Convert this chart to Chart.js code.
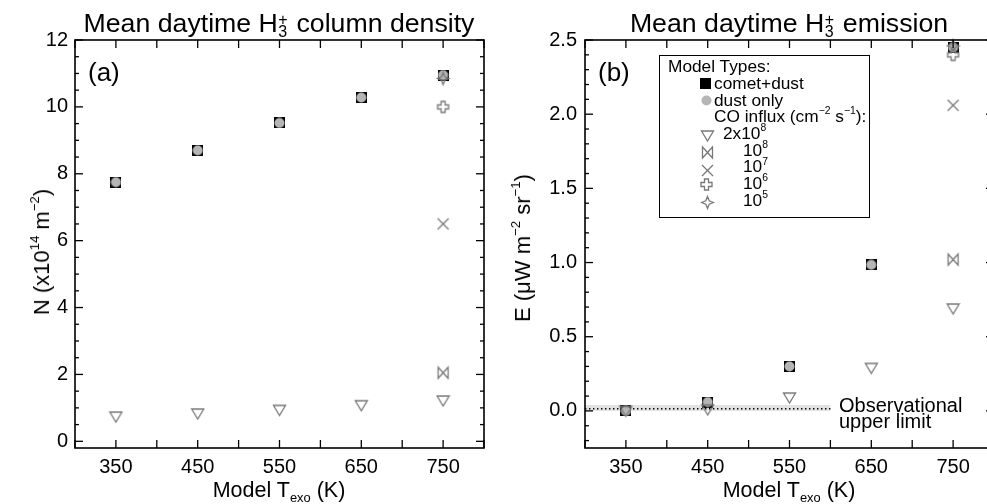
<!DOCTYPE html>
<html>
<head>
<meta charset="utf-8">
<script src="https://cdn.jsdelivr.net/npm/chart.js@4.4.1/dist/chart.umd.min.js"></script>
<style>
  html, body { margin:0; padding:0; background:#fff; }
  body { width:987px; height:504px; overflow:hidden; position:relative;
         font-family:"Liberation Sans", Arial, Helvetica, sans-serif; color:#000; }
  .cw { position:absolute; top:0; height:504px; }
  #cwA { left:0; width:493px; }
  #cwB { left:493px; width:520px; }
  .txt { position:absolute; white-space:nowrap; line-height:1; }
  .ctr { transform:translateX(-50%); }
  .title { font-size:26.7px; }
  .ss { position:relative; display:inline-block; width:0.42em; height:0; }
  .ss .p { position:absolute; left:0.03em; bottom:0.3em; font-size:0.6em; line-height:1; }
  .ss .b { position:absolute; left:0.03em; top:-0.51em; font-size:0.6em; line-height:1; }
  .sup { font-size:0.6em; position:relative; top:-0.75em; }
  .sub { font-size:0.6em; position:relative; top:0.42em; }
  .ytitle { transform:translate(-50%,-50%) rotate(-90deg); font-size:22px; }
  #legend { position:absolute; left:659px; top:55px; width:211px; height:163px;
            border:1.5px solid #000; box-sizing:border-box; background:#fff; }
  .lg { font-size:17.3px; }
  .lm { position:absolute; }
</style>
</head>
<body>
<div class="cw" id="cwA"><canvas id="chartA"></canvas></div>
<div class="cw" id="cwB"><canvas id="chartB"></canvas></div>

<div class="txt title ctr" style="left:279px;top:9.5px;">Mean daytime H<span class="ss"><span class="p">+</span><span class="b">3</span></span>&nbsp;column density</div>
<div class="txt title ctr" style="left:789px;top:9.5px;">Mean daytime H<span class="ss"><span class="p">+</span><span class="b">3</span></span>&nbsp;emission</div>

<div class="txt" style="left:88px;top:59px;font-size:26px;">(a)</div>
<div class="txt" style="left:598px;top:59px;font-size:26px;">(b)</div>

<div class="txt ctr" style="left:279px;top:480px;font-size:21.5px;">Model T<span class="sub">exo</span> (K)</div>
<div class="txt ctr" style="left:789px;top:480px;font-size:21.5px;">Model T<span class="sub">exo</span> (K)</div>

<div class="txt ytitle" style="left:42px;top:252px;">N (x10<span class="sup">14</span> m<span class="sup">&minus;2</span>)</div>
<div class="txt ytitle" style="left:523px;top:248px;">E (&mu;W m<span class="sup">&minus;2</span> sr<span class="sup">&minus;1</span>)</div>

<div class="txt" style="left:839px;top:395px;font-size:20px;">Observational</div>
<div class="txt" style="left:839px;top:411px;font-size:20px;">upper limit</div>

<div id="legend"></div>
<div id="legendItems"></div>

<script>
// ---------------- DATA ----------------
const temps = [350, 450, 550, 650, 750];
const coOnlyTemp = [750];
const xTickLabels = [350, 450, 550, 650, 750];
const nTickValues = [0, 2, 4, 6, 8, 10, 12];
const eTickValues = [0.0, 0.5, 1.0, 1.5, 2.0, 2.5];

// Panel (a): mean daytime H3+ column density, N (x10^14 m^-2)
const nCometDust = [7.75, 8.7, 9.52, 10.28, 10.95];
const nDustOnly  = [7.75, 8.7, 9.52, 10.28, 10.95];
const nCO2e8 = [0.74, 0.83, 0.94, 1.08, 1.22];
const nCO1e8 = [2.05];
const nCO1e7 = [6.5];
const nCO1e6 = [10.0];
const nCO1e5 = [10.85];

// Panel (b): mean daytime H3+ emission, E (uW m^-2 sr^-1)
const eCometDust = [0.0, 0.06, 0.30, 0.985, 2.45];
const eDustOnly  = [0.0, 0.06, 0.30, 0.985, 2.45];
const eCO2e8 = [0.0, 0.01, 0.09, 0.29, 0.69];
const eCO1e8 = [1.02];
const eCO1e7 = [2.06];
const eCO1e6 = [2.40];
const eCO1e5 = [2.46];

// Observational upper limit
const obsLimitX = [300, 600];
const obsLimitValue = [0.015, 0.015];
const obsBandTop = [0.04, 0.04];

// ---------------- STYLE ----------------
const FONT = '"Liberation Sans", Arial, Helvetica, sans-serif';
const GRAY = '#787878';
const LIGHT = '#b5b5b5';

function makeMarker(w, h, draw) {
  const c = document.createElement('canvas');
  c.width = w; c.height = h;
  const g = c.getContext('2d');
  g.strokeStyle = GRAY; g.fillStyle = GRAY; g.lineWidth = 1.3; g.lineJoin = 'miter';
  draw(g, w / 2, h / 2);
  return c;
}
const mkSquare = () => makeMarker(11, 11, (g) => { g.fillStyle = '#000'; g.fillRect(0, 0, 11, 11); });
const mkCircle = () => makeMarker(11, 11, (g, c) => { g.fillStyle = LIGHT; g.beginPath(); g.arc(c, c, 5, 0, Math.PI * 2); g.fill(); });
const mkTri = () => makeMarker(15, 15, (g, c) => {
  g.beginPath(); g.moveTo(c - 6, c - 4.5); g.lineTo(c + 6, c - 4.5); g.lineTo(c, c + 5.5); g.closePath(); g.stroke();
});
const mkBow = () => makeMarker(15, 15, (g, c) => {
  const l = c - 5, r = c + 5, t = c - 5.5, b = c + 5.5;
  g.beginPath();
  g.moveTo(l, t); g.lineTo(r, b); g.lineTo(r, t); g.lineTo(l, b); g.closePath();
  g.stroke();
});
const mkX = () => makeMarker(15, 15, (g, c) => {
  const e = 5.5;
  g.beginPath(); g.moveTo(c - e, c - e); g.lineTo(c + e, c + e); g.moveTo(c - e, c + e); g.lineTo(c + e, c - e); g.stroke();
});
const mkCross = () => makeMarker(15, 15, (g, c) => {
  const a = 2, e = 5.5;
  g.beginPath();
  g.moveTo(c - a, c - e); g.lineTo(c + a, c - e); g.lineTo(c + a, c - a); g.lineTo(c + e, c - a);
  g.lineTo(c + e, c + a); g.lineTo(c + a, c + a); g.lineTo(c + a, c + e); g.lineTo(c - a, c + e);
  g.lineTo(c - a, c + a); g.lineTo(c - e, c + a); g.lineTo(c - e, c - a); g.lineTo(c - a, c - a);
  g.closePath(); g.stroke();
});
const mkStar = () => makeMarker(15, 15, (g, c) => {
  const e = 6, s = 1.7;
  g.beginPath();
  g.moveTo(c, c - e); g.lineTo(c + s, c - s); g.lineTo(c + e, c); g.lineTo(c + s, c + s);
  g.lineTo(c, c + e); g.lineTo(c - s, c + s); g.lineTo(c - e, c); g.lineTo(c - s, c - s);
  g.closePath(); g.stroke();
});

const MARK = {
  square: mkSquare(), circle: mkCircle(), tri: mkTri(), bow: mkBow(),
  x: mkX(), cross: mkCross(), star: mkStar()
};

// ---------------- LEGEND (HTML) ----------------
(function buildLegend() {
  const host = document.getElementById('legendItems');
  const rows = [
    { html: 'Model Types:', x: 668 },
    { html: 'comet+dust', x: 714, m: 'square', mx: 705.5, my: 83 },
    { html: 'dust only', x: 714, m: 'circle', mx: 706.5, my: 100.5 },
    { html: 'CO influx (cm<span class="sup">&minus;2</span> s<span class="sup">&minus;1</span>):', x: 714 },
    { html: '2x10<span class="sup">8</span>', x: 723, m: 'tri', mx: 707, my: 135 },
    { html: '10<span class="sup">8</span>', x: 743, m: 'bow', mx: 707, my: 152.5 },
    { html: '10<span class="sup">7</span>', x: 743, m: 'x', mx: 707, my: 170.5 },
    { html: '10<span class="sup">6</span>', x: 743, m: 'cross', mx: 706, my: 184.5 },
    { html: '10<span class="sup">5</span>', x: 743, m: 'star', mx: 707, my: 202.5 }
  ];
  rows.forEach((r, k) => {
    const baseline = 72.7 + 16.7 * k;
    const d = document.createElement('div');
    d.className = 'txt lg';
    d.style.left = r.x + 'px';
    d.style.top = (baseline - 14.6) + 'px';
    d.innerHTML = r.html;
    host.appendChild(d);
    if (r.m) {
      const src = MARK[r.m];
      const c = document.createElement('canvas');
      c.width = src.width; c.height = src.height;
      c.getContext('2d').drawImage(src, 0, 0);
      c.className = 'lm';
      c.style.left = (r.mx - src.width / 2) + 'px';
      c.style.top = (r.my - src.height / 2) + 'px';
      host.appendChild(c);
    }
  });
})();

// ---------------- PLUGIN: box frame with inward ticks ----------------
const framePlugin = {
  id: 'frame',
  afterDatasetsDraw(chart, args, o) {
    const { ctx, chartArea: a } = chart;
    const xs = chart.scales.x, ys = chart.scales.y;
    ctx.save();
    ctx.strokeStyle = '#000';
    ctx.lineWidth = 1.3;
    const seg = (x1, y1, x2, y2) => { ctx.beginPath(); ctx.moveTo(x1, y1); ctx.lineTo(x2, y2); ctx.stroke(); };
    for (let k = Math.ceil(xs.min / o.xStep - 1e-9); k * o.xStep <= xs.max + 1e-9; k++) {
      const px = xs.getPixelForValue(k * o.xStep);
      seg(px, a.bottom, px, a.bottom - o.major);
      seg(px, a.top, px, a.top + o.major);
    }
    for (let k = Math.ceil(ys.min / o.yMinor - 1e-9); k * o.yMinor <= ys.max + 1e-9; k++) {
      const v = k * o.yMinor;
      const r = v / o.yMajor;
      const len = Math.abs(r - Math.round(r)) < 1e-6 ? o.major : o.minor;
      const py = ys.getPixelForValue(v);
      seg(a.left, py, a.left + len, py);
      seg(a.right, py, a.right - len, py);
    }
    ctx.lineWidth = 1.6;
    ctx.strokeRect(a.left, a.top, a.right - a.left, a.bottom - a.top);
    ctx.restore();
  }
};

// ---------------- CHART HELPERS ----------------
function pts(xs, ys) { return ys.map((v, i) => ({ x: xs[i], y: v })); }
function markerSet(label, xs, ys, key, order) {
  return { label, data: pts(xs, ys), pointStyle: MARK[key], pointRadius: 6,
           showLine: false, order, clip: false };
}
function xScale() {
  return {
    type: 'linear', min: 300, max: 800,
    afterBuildTicks: s => { s.ticks = xTickLabels.map(v => ({ value: v })); },
    afterFit: s => { s.height = 56; },
    grid: { display: false, drawTicks: false }, border: { display: false },
    ticks: { font: { family: FONT, size: 20 }, color: '#000', padding: 7,
             autoSkip: false, maxRotation: 0, minRotation: 0 }
  };
}
function yScale(min, max, tickVals, width, fmt) {
  return {
    type: 'linear', min, max,
    afterBuildTicks: s => { s.ticks = tickVals.map(v => ({ value: v })); },
    afterFit: s => { s.width = width; },
    grid: { display: false, drawTicks: false }, border: { display: false },
    ticks: { font: { family: FONT, size: 20 }, color: '#000', padding: 7,
             autoSkip: false, callback: fmt }
  };
}
const baseOpts = (padRight, yS, frameOpts) => ({
  responsive: true, maintainAspectRatio: false, animation: false,
  layout: { padding: { left: 0, right: padRight, top: 40, bottom: 0 } },
  scales: { x: xScale(), y: yS },
  plugins: { legend: { display: false }, tooltip: { enabled: false }, frame: frameOpts },
  events: []
});

// ---------------- PANEL (a) ----------------
new Chart(document.getElementById('chartA'), {
  type: 'scatter',
  data: { datasets: [
    markerSet('comet+dust', temps, nCometDust, 'square', 50),
    markerSet('dust only', temps, nDustOnly, 'circle', 40),
    markerSet('2x10^8', temps, nCO2e8, 'tri', 30),
    markerSet('10^8', coOnlyTemp, nCO1e8, 'bow', 20),
    markerSet('10^7', coOnlyTemp, nCO1e7, 'x', 15),
    markerSet('10^6', coOnlyTemp, nCO1e6, 'cross', 12),
    markerSet('10^5', coOnlyTemp, nCO1e5, 'star', 10)
  ]},
  options: baseOpts(9, yScale(-0.2, 12, nTickValues, 75, v => String(v)),
                    { xStep: 50, yMajor: 2, yMinor: 0.5, major: 8, minor: 4 }),
  plugins: [framePlugin]
});

// ---------------- PANEL (b) ----------------
const yB = yScale(-0.25, 2.5, eTickValues, 92, v => Number(v).toFixed(1));
yB.ticks.padding = 8;
new Chart(document.getElementById('chartB'), {
  type: 'scatter',
  data: { datasets: [
    { label: 'obs band', type: 'line', data: pts(obsLimitX, obsBandTop), showLine: true,
      fill: { value: 0 }, backgroundColor: '#e2e2e2', borderWidth: 0, pointRadius: 0, order: 100 },
    { label: 'obs limit', type: 'line', data: pts(obsLimitX, obsLimitValue), showLine: true,
      fill: false, borderColor: '#000', borderWidth: 1.4, borderDash: [1.4, 2.6], pointRadius: 0, order: 99 },
    markerSet('comet+dust', temps, eCometDust, 'square', 50),
    markerSet('dust only', temps, eDustOnly, 'circle', 40),
    markerSet('2x10^8', temps, eCO2e8, 'tri', 30),
    markerSet('10^8', coOnlyTemp, eCO1e8, 'bow', 20),
    markerSet('10^7', coOnlyTemp, eCO1e7, 'x', 15),
    markerSet('10^6', coOnlyTemp, eCO1e6, 'cross', 12),
    markerSet('10^5', coOnlyTemp, eCO1e5, 'star', 10)
  ]},
  options: baseOpts(19, yB, { xStep: 50, yMajor: 0.5, yMinor: 0.1, major: 8, minor: 4 }),
  plugins: [framePlugin]
});
</script>
</body>
</html>
